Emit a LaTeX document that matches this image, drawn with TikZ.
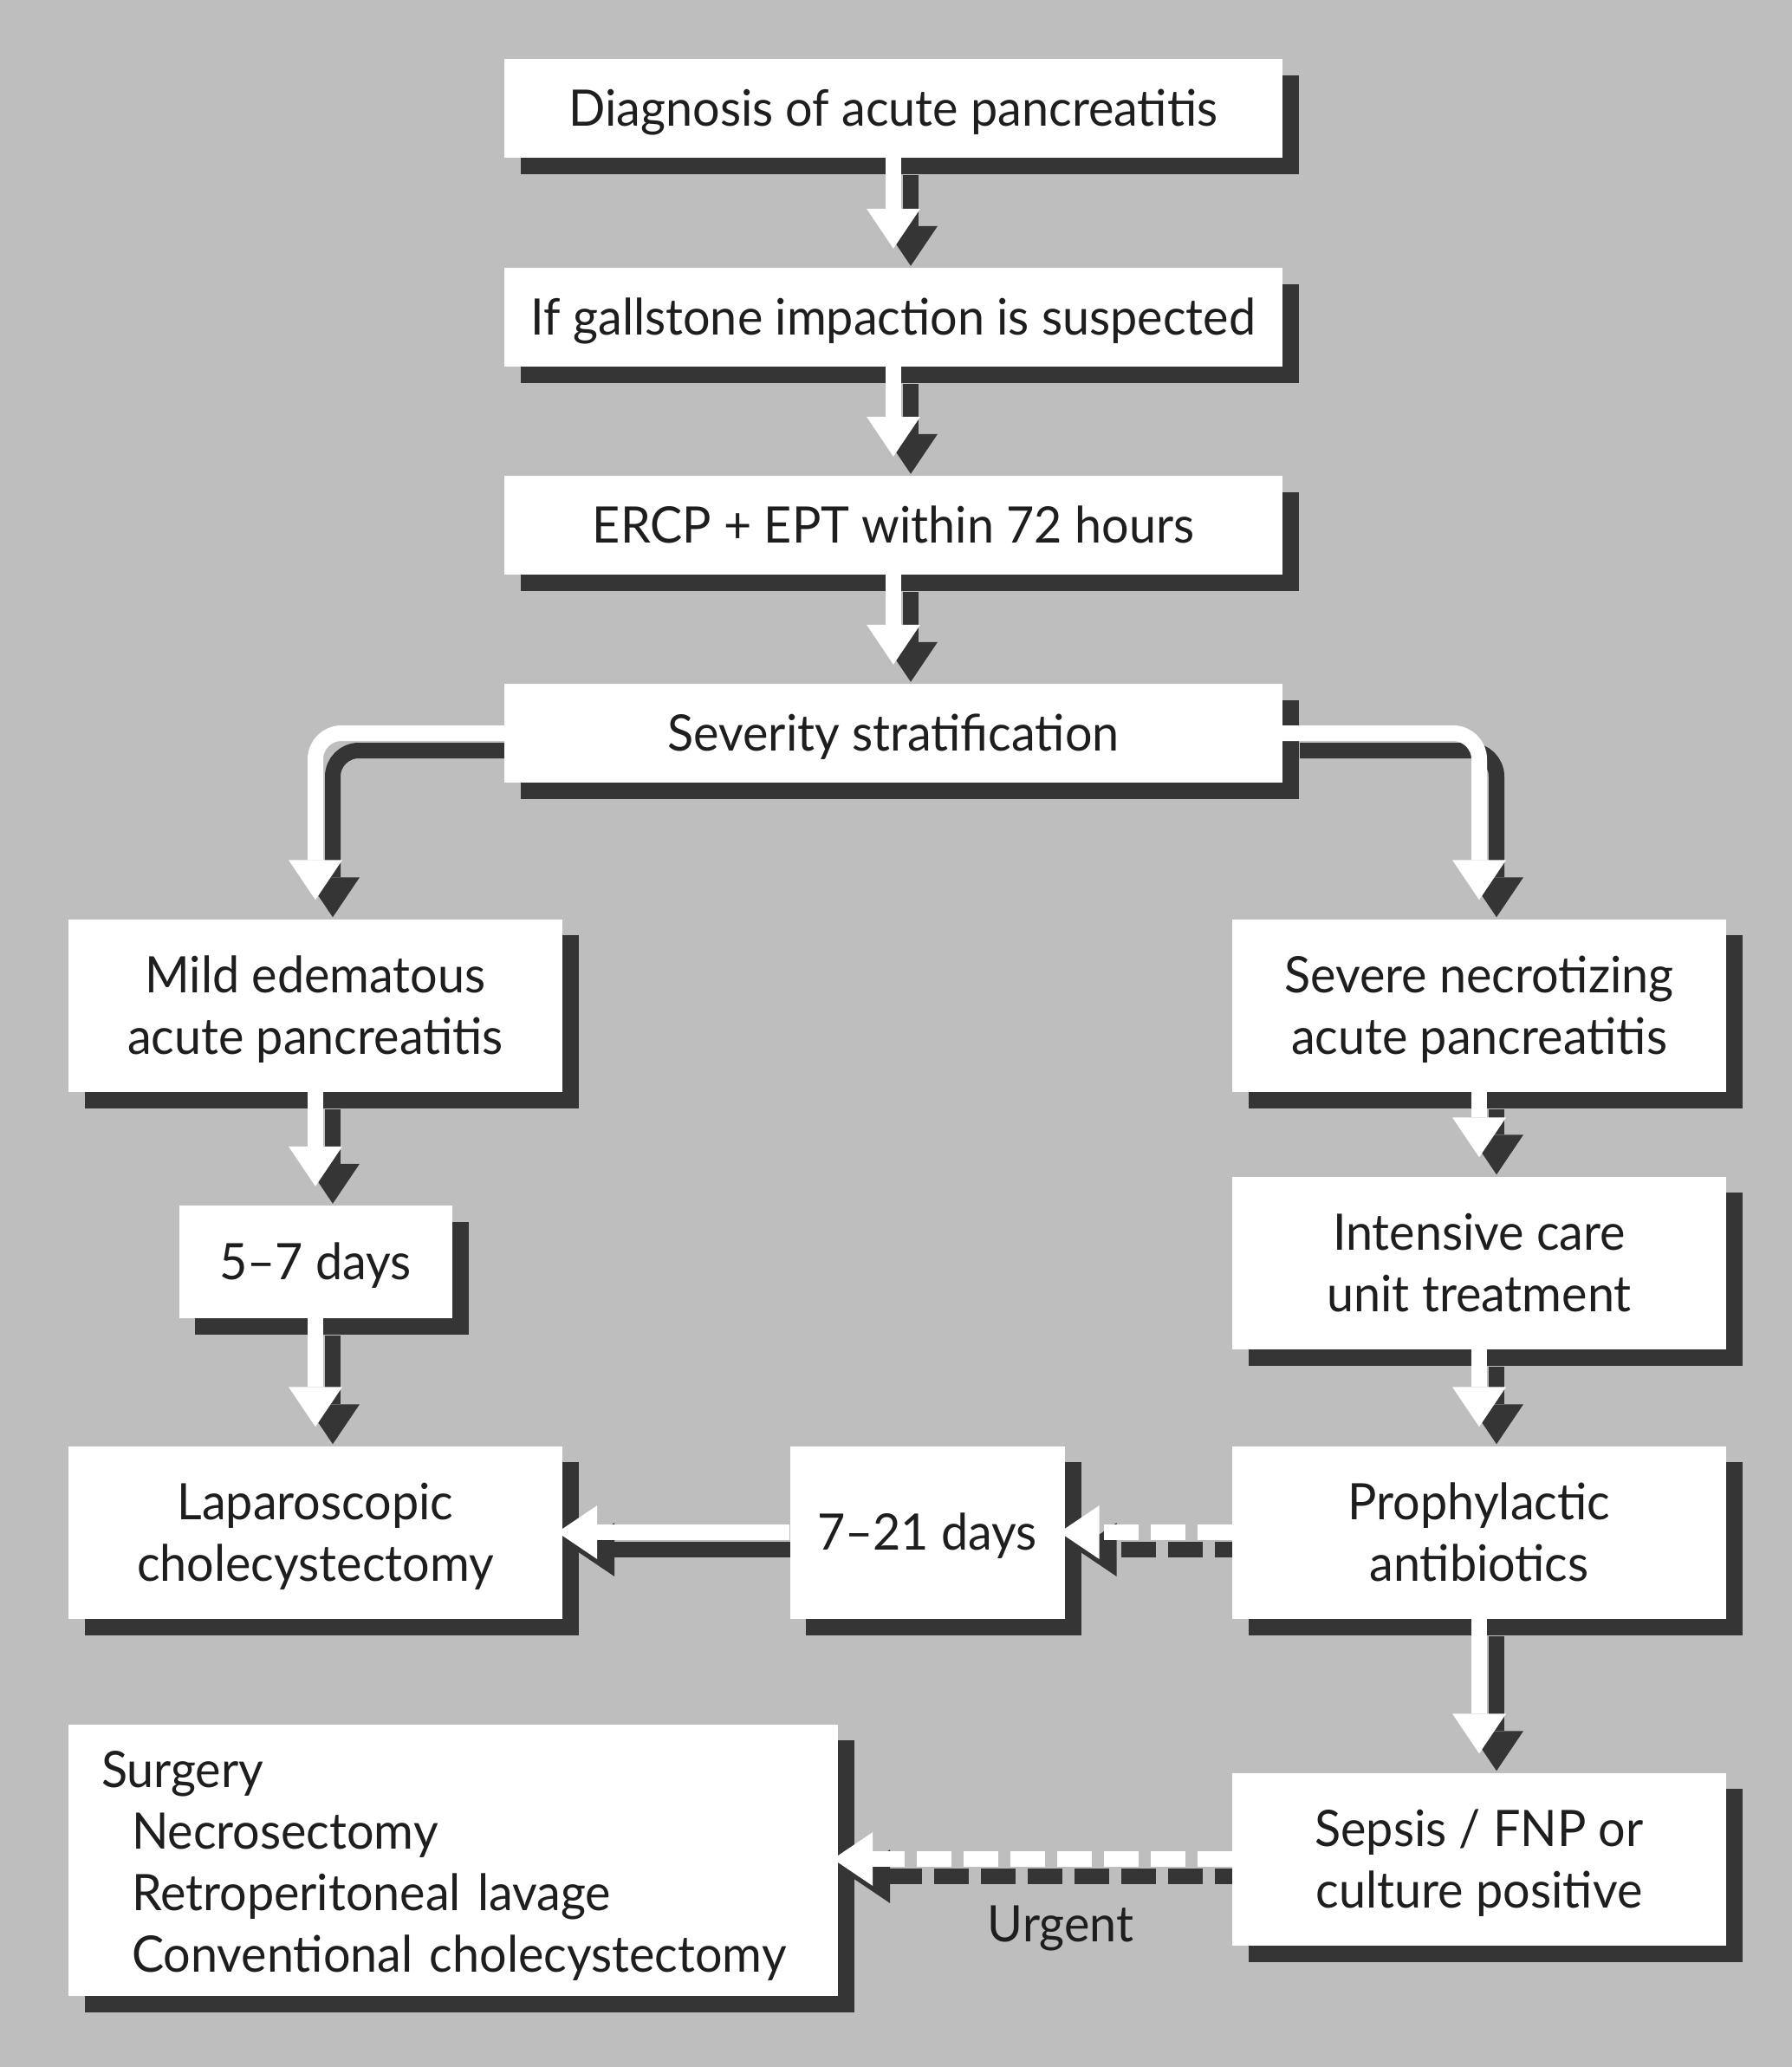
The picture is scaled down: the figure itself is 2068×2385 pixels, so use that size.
\documentclass[tikz,border=0pt]{standalone}
\usepackage{fontspec}
\setmainfont{Lato}[FakeStretch=0.96]
\usetikzlibrary{arrows.meta}
\definecolor{bggray}{gray}{0.745}
\definecolor{shad}{HTML}{353535}
\definecolor{txt}{HTML}{1E1E1E}
\pgfdeclarelayer{bg}
\pgfdeclarelayer{boxsh}
\pgfdeclarelayer{arrsh}
\pgfdeclarelayer{arrwh}
\pgfsetlayers{bg,boxsh,arrsh,arrwh,main}
\tikzset{
  box/.style={fill=white, inner sep=0pt, text=txt, align=center, text depth=1pt,
    font=\fontsize{58}{71}\selectfont},
  tip/.tip={Triangle[width=62pt,length=46pt,line width=0pt]},
  arrwhite/.style={draw=white, line width=18pt, -tip},
  arrshadow/.style={draw=shad, line width=18pt, -tip},
  dashpat/.style={dash pattern=on 40pt off 14pt},
  lbl/.style={inner sep=0pt, text=txt, font=\fontsize{58}{71}\selectfont}
}
\begin{document}
\begin{tikzpicture}[x=1pt,y=-1pt]
\useasboundingbox (0,0) rectangle (2068,2385);
\begin{pgfonlayer}{bg}
\fill[bggray] (0,0) rectangle (2068,2385);
\end{pgfonlayer}

\node[box, minimum width=898pt, minimum height=114pt] (b1) at (1031,125) {Diagnosis of acute pancreatitis};
\node[box, minimum width=898pt, minimum height=114pt] (b2) at (1031,366) {If gallstone impaction is suspected};
\node[box, minimum width=898pt, minimum height=114pt] (b3) at (1031,606) {ERCP + EPT within 72 hours};
\node[box, minimum width=898pt, minimum height=114pt] (b4) at (1031,846) {Severity stratification};
\node[box, minimum width=570pt, minimum height=199pt] (mild) at (364,1160) {Mild edematous\\acute pancreatitis};
\node[box, minimum width=570pt, minimum height=199pt] (severe) at (1707,1160) {Severe necrotizing\\acute pancreatitis};
\node[box, minimum width=315pt, minimum height=130pt] (d57) at (364,1456) {5–7 days};
\node[box, minimum width=570pt, minimum height=199pt] (icu) at (1707,1457) {Intensive care\\unit treatment};
\node[box, minimum width=570pt, minimum height=199pt] (lap) at (364,1768) {Laparoscopic\\cholecystectomy};
\node[box, minimum width=317pt, minimum height=199pt] (d721) at (1070,1768) {7–21 days};
\node[box, minimum width=570pt, minimum height=199pt] (proph) at (1707,1768) {Prophylactic\\antibiotics};
\node[box, minimum width=570pt, minimum height=199pt] (sepsis) at (1707,2145) {Sepsis / FNP or\\culture positive};
\node[box, text depth={}, minimum width=888pt, minimum height=313pt, text width=812pt, align=left] (surgery) at (523,2146)
  {\rule{0pt}{55pt}Surgery\\\hspace*{35pt}Necrosectomy\\\hspace*{35pt}Retroperitoneal lavage\\\hspace*{35pt}Conventional cholecystectomy};
\node[lbl] (urgent) at (1224,2225) {Urgent};

\begin{pgfonlayer}{boxsh}
\foreach \n in {b1,b2,b3,b4,mild,severe,d57,icu,lap,d721,proph,sepsis,surgery}
  \fill[shad] ([shift={(19,19)}]\n.north west) rectangle ([shift={(19,19)}]\n.south east);
\end{pgfonlayer}

\begin{pgfonlayer}{arrsh}
\foreach \a/\b in {b1/b2,b2/b3,b3/b4,mild/d57,d57/lap,severe/icu,icu/proph,proph/sepsis}
  \draw[arrshadow, shorten >=22pt] ([shift={(20,20)}]\a.south) -- ([shift={(20,20)}]\b.north);
\draw[arrshadow, rounded corners=30pt, shorten >=22pt] ([shift={(20,20)}]b4.west) -| ([shift={(20,20)}]mild.north);
\draw[arrshadow, rounded corners=30pt, shorten >=22pt] ([shift={(20,20)}]b4.east) -| ([shift={(20,20)}]severe.north);
\draw[arrshadow, shorten >=-6pt] ([shift={(20,20)}]d721.west) -- ([shift={(20,20)}]lap.east);
\draw[arrshadow, dashpat, shorten >=-6pt] ([shift={(20,20)}]proph.west) -- ([shift={(20,20)}]d721.east);
\draw[arrshadow, dashpat, shorten >=-6pt] ([shift={(20,20)}]sepsis.west) -- ([shift={(20,20)}]surgery.east |- sepsis.west);
\end{pgfonlayer}

\begin{pgfonlayer}{arrwh}
\foreach \a/\b in {b1/b2,b2/b3,b3/b4,mild/d57,d57/lap,severe/icu,icu/proph,proph/sepsis}
  \draw[arrwhite, shorten >=22pt] (\a.south) -- (\b.north);
\draw[arrwhite, rounded corners=30pt, shorten >=22pt] (b4.west) -| (mild.north);
\draw[arrwhite, rounded corners=30pt, shorten >=22pt] (b4.east) -| (severe.north);
\draw[arrwhite, shorten >=-6pt] (d721.west) -- (lap.east);
\draw[arrwhite, dashpat, shorten >=-6pt] (proph.west) -- (d721.east);
\draw[arrwhite, dashpat, shorten >=-6pt] (sepsis.west) -- (surgery.east |- sepsis.west);
\end{pgfonlayer}
\end{tikzpicture}
\end{document}
